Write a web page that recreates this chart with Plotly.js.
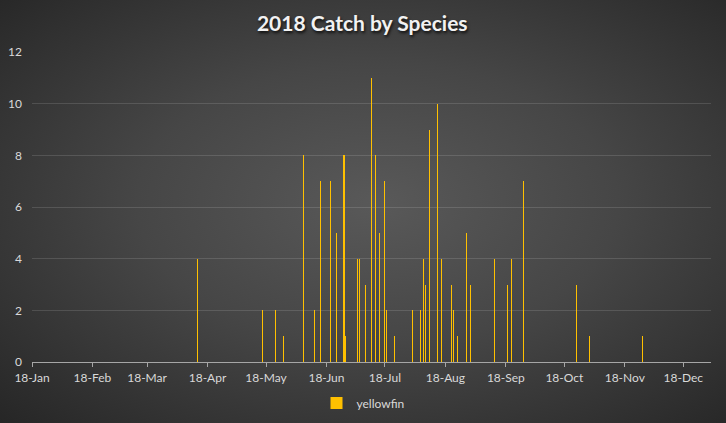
<!DOCTYPE html>
<html>
<head>
<meta charset="utf-8">
<script src="https://cdn.plot.ly/plotly-3.0.1.min.js"></script>
<style>
  html, body { margin:0; padding:0; }
  body { width:726px; height:423px; overflow:hidden;
    background: radial-gradient(ellipse farthest-corner at 52% 48%, #595959 0%, #464646 45%, #262626 100%); }
  #chart { width:726px; height:423px; }
</style>
</head>
<body>
<div id="chart"></div>
<script>
// Catch dates (2018) and counts for yellowfin
const dates = [
  "2018-03-27","2018-04-29","2018-05-06","2018-05-10","2018-05-20","2018-05-26",
  "2018-05-29","2018-06-03","2018-06-06","2018-06-10","2018-06-11","2018-06-17",
  "2018-06-18","2018-06-21","2018-06-24","2018-06-26","2018-06-28","2018-07-01",
  "2018-07-02","2018-07-06","2018-07-15","2018-07-19","2018-07-21","2018-07-22",
  "2018-07-24","2018-07-28","2018-07-30","2018-08-04","2018-08-05","2018-08-07",
  "2018-08-12","2018-08-14","2018-08-26","2018-09-02","2018-09-04","2018-09-10",
  "2018-10-07","2018-10-14","2018-11-10"
];
const yellowfin = [
  4, 2, 2, 1, 8, 2,
  7, 7, 5, 8, 1, 4,
  4, 3, 11, 8, 5, 7,
  2, 1, 2, 2, 4, 3,
  9, 10, 4, 3, 2, 1,
  5, 3, 4, 3, 4, 7,
  3, 1, 1
];
const seriesName = "yellowfin";
const chartTitle = "2018 Catch by Species";

const DAY = 86400000;
const trace = {
  type: "bar",
  x: dates,
  y: yellowfin,
  name: seriesName,
  width: dates.map(() => 0.55 * DAY),
  marker: { color: "#FFC000", line: { width: 0 } },
  showlegend: true,
  hoverinfo: "x+y"
};

const layout = {
  width: 726, height: 423,
  paper_bgcolor: "rgba(0,0,0,0)",
  plot_bgcolor: "rgba(0,0,0,0)",
  margin: { l: 32, r: 15, t: 52, b: 61 },
  font: { family: "Lato, 'Open Sans', sans-serif", color: "#d9d9d9", size: 12 },
  title: {
    text: "<b>" + chartTitle + "</b>",
    x: 0.499, xanchor: "center",
    y: 1 - 24/423, yanchor: "middle", yref: "container",
    font: { family: "Lato, sans-serif", size: 21, color: "#f2f2f2", shadow: "1px 2px 3px rgba(0,0,0,0.8)" }
  },
  xaxis: {
    type: "date",
    range: ["2018-01-01", "2018-12-15 05:00"],
    tick0: "2018-01-01", dtick: "M1",
    tickformat: "%y-%b",
    showgrid: false,
    showline: true, linecolor: "#a6a6a6", linewidth: 1.3,
    ticks: "outside", ticklen: 4, tickcolor: "#a6a6a6", tickwidth: 1,
    tickfont: { size: 12, color: "#d9d9d9" },
    zeroline: false,
    automargin: false,
    fixedrange: true
  },
  yaxis: {
    range: [0, 12], dtick: 2, tick0: 0,
    showgrid: true, gridcolor: "rgba(255,255,255,0.13)", gridwidth: 1,
    zeroline: false, showline: false,
    ticks: "", ticklabelstandoff: 9,
    tickfont: { size: 12, color: "#d9d9d9" },
    automargin: false,
    fixedrange: true
  },
  bargap: 0,
  legend: {
    orientation: "h",
    xref: "container", yref: "container",
    x: 0.5, xanchor: "center",
    y: 1 - 403/423, yanchor: "middle",
    font: { size: 12, color: "#d9d9d9" },
    bgcolor: "rgba(0,0,0,0)",
    itemwidth: 30
  }
};

Plotly.newPlot("chart", [trace], layout, { displayModeBar: false, staticPlot: true });
</script>
</body>
</html>
